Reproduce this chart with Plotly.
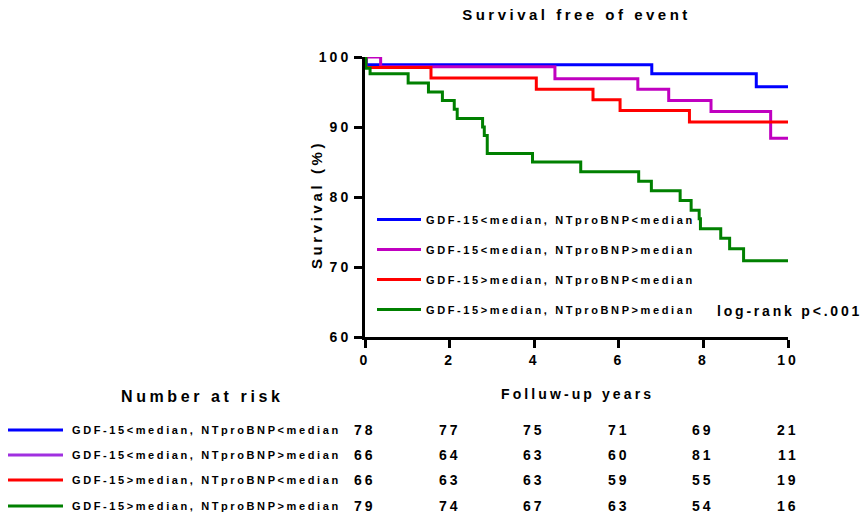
import plotly.graph_objects as go

# ---------------- data ----------------
groups = [
    "GDF-15<median, NTproBNP<median",
    "GDF-15<median, NTproBNP>median",
    "GDF-15>median, NTproBNP<median",
    "GDF-15>median, NTproBNP>median",
]
line_colors = ["#0000FF", "#C000C0", "#FF0000", "#008000"]
table_colors = ["#0000FF", "#A030E0", "#FF0000", "#008000"]

t_blue = [0, 0.03, 6.78, 9.25, 10]
s_blue = [100, 98.9, 97.6, 95.75, 95.75]

t_mag = [0, 0.37, 4.49, 6.45, 7.18, 8.18, 9.59, 10]
s_mag = [100, 98.6, 96.9, 95.4, 93.8, 92.2, 88.4, 88.4]

t_red = [0, 0.02, 1.56, 4.05, 5.39, 6.03, 7.67, 10]
s_red = [100, 98.5, 97.0, 95.4, 93.9, 92.35, 90.7, 90.7]

t_green = [0, 0.02, 0.12, 1.02, 1.50, 1.83, 2.11, 2.18, 2.78, 2.82, 2.89, 3.96,
           5.10, 6.47, 6.77, 7.45, 7.71, 7.90, 7.93, 8.41, 8.62, 8.95, 10]
s_green = [100, 98.4, 97.6, 96.3, 95.0, 93.8, 92.55, 91.2, 90.0, 88.8, 86.2, 85.0,
           83.6, 82.25, 80.9, 79.5, 78.1, 76.9, 75.45, 74.1, 72.6, 70.9, 70.9]

risk_times = [0, 2, 4, 6, 8, 10]
risk_blue = [78, 77, 75, 71, 69, 21]
risk_mag = [66, 64, 63, 60, 81, 11]
risk_red = [66, 63, 63, 59, 55, 19]
risk_green = [79, 74, 67, 63, 54, 16]

x_ticks = [0, 2, 4, 6, 8, 10]
y_ticks = [60, 70, 80, 90, 100]

title_text = "Survival free of event"
x_title = "Folluw-up years"
y_title = "Survival (%)"
risk_title = "Number at risk"
pvalue_text = "log-rank p<.001"

# ---------------- helpers ----------------
W, H = 868, 516
ML, MR, MT, MB = 365, 80, 57, 179
PW, PH = W - ML - MR, H - MT - MB
FONT = "Liberation Sans, Arial, sans-serif"


def esc(s):
    return s.replace("<", "&lt;").replace(">", "&gt;")


def ls(s, sp):
    return f"<span style='letter-spacing:{sp}px'>{esc(s)}</span>"


def py(p):  # pixel y -> paper y
    return (H - MB - p) / PH


def px(p):  # pixel x -> paper x
    return (p - ML) / PW


fig = go.Figure()

curves = [(t_blue, s_blue), (t_mag, s_mag), (t_red, s_red), (t_green, s_green)]
for i, (t, s) in enumerate(curves):
    fig.add_trace(go.Scatter(
        x=t, y=s, mode="lines", line=dict(color=line_colors[i], width=3, shape="hv"),
        name=ls(groups[i], 2.6), legendgroup=f"g{i}", cliponaxis=False,
    ))

annotations = []
# p-value
annotations.append(dict(x=px(715), y=py(311), xref="paper", yref="paper",
                        text=ls(pvalue_text, 2.8), showarrow=False, xanchor="left",
                        yanchor="middle", font=dict(size=14, family=FONT, weight="bold", color="black")))
# y title
annotations.append(dict(x=px(316), y=py(205), xref="paper", yref="paper", textangle=-90,
                        text=ls(y_title, 3.6), showarrow=False, xanchor="center",
                        yanchor="middle", font=dict(size=15, family=FONT, weight="bold", color="black")))
# x title
annotations.append(dict(x=px(577), y=py(394), xref="paper", yref="paper",
                        text=ls(x_title, 3.1), showarrow=False, xanchor="center",
                        yanchor="middle", font=dict(size=14, family=FONT, weight="bold", color="black")))
# number at risk title
annotations.append(dict(x=px(202), y=py(396), xref="paper", yref="paper",
                        text=ls(risk_title, 3.6), showarrow=False, xanchor="center",
                        yanchor="middle", font=dict(size=16, family=FONT, weight="bold", color="black")))

row_y = [430, 455, 480, 506]
risks = [risk_blue, risk_mag, risk_red, risk_green]
shapes = []
for i in range(4):
    annotations.append(dict(x=px(70), y=py(row_y[i]), xref="paper", yref="paper",
                            text=ls(groups[i], 2.6), showarrow=False, xanchor="left",
                            yanchor="middle", font=dict(size=11, family=FONT, weight="bold", color="black")))
    shapes.append(dict(type="line", xref="paper", yref="paper", x0=px(8), x1=px(63),
                       y0=py(row_y[i]), y1=py(row_y[i]),
                       line=dict(color=table_colors[i], width=3)))
    for tt, n in zip(risk_times, risks[i]):
        annotations.append(dict(x=tt, y=py(row_y[i]), xref="x", yref="paper",
                                text=ls(str(n), 3), showarrow=False, xanchor="center",
                                yanchor="middle", font=dict(size=14, family=FONT, weight="bold", color="black")))

fig.update_layout(
    width=W, height=H,
    margin=dict(l=ML, r=MR, t=MT, b=MB, pad=0),
    paper_bgcolor="white", plot_bgcolor="white",
    font=dict(family=FONT, color="black", weight="bold"),
    title=dict(text=ls(title_text, 3.5), x=0.5, xref="paper", xanchor="center",
               y=1 - 15 / H, yref="container", yanchor="middle",
               font=dict(size=15, family=FONT, weight="bold", color="black")),
    xaxis=dict(range=[0, 10], tickvals=x_ticks, ticktext=[ls(str(v), 3) for v in x_ticks],
               showgrid=False, zeroline=False, showline=True, linecolor="black", linewidth=3,
               ticks="outside", ticklen=8, tickwidth=3, tickcolor="black",
               tickfont=dict(size=14, family=FONT, weight="bold", color="black")),
    yaxis=dict(range=[60, 100], tickvals=y_ticks, ticktext=[ls(str(v), 3) for v in y_ticks],
               showgrid=False, zeroline=False, showline=True, linecolor="black", linewidth=3,
               ticks="outside", ticklen=8, tickwidth=3, tickcolor="black",
               tickfont=dict(size=14, family=FONT, weight="bold", color="black")),
    showlegend=True,
    legend=dict(x=px(372), y=py(205), xanchor="left", yanchor="top",
                bgcolor="rgba(0,0,0,0)", tracegroupgap=11, itemwidth=44,
                font=dict(size=11, family=FONT, weight="bold", color="black")),
    annotations=annotations,
    shapes=shapes,
)

fig.write_html("out.html")
